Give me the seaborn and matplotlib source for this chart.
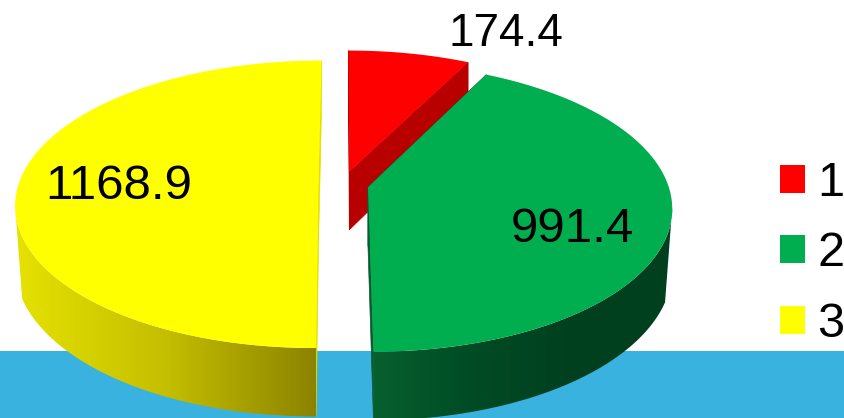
import numpy as np  # numerical work for the projection
import matplotlib
matplotlib.use('Agg')
import matplotlib.pyplot as plt
from matplotlib.patches import Patch, Polygon
import seaborn as sns

# chart data
categories = ['1', '2', '3']
values = [174.4, 991.4, 1168.9]
colors = ['#FF0000', '#00AE50', '#FFFF00']

sns.set_theme(style='white')
plt.rcParams['font.family'] = ['Liberation Sans', 'DejaVu Sans']

# camera of the fake 3D pie, in pixels
CX, CY = 342.8, 184.4
SX, SY, K = 300, 141, 0.138
DEPTH = 59
EXPLODE = [0.095, 0.086, 0.081]


def project(x, y, z=0.0):
    # x right, y away from the viewer, z down (0 top, 1 bottom)
    w = 1 + K * y
    sx = CX + SX * x / w
    sy = CY - SY * y / w + DEPTH * z / w
    return sx, sy


fig = plt.figure(figsize=(8.44, 4.18), dpi=100)
ax = fig.add_axes([0, 0, 1, 1])
ax.axis('off')

# blue band behind the pie
ax.axhspan(351, 418, color='#39B2E0', lw=0, zorder=0)

# slice angles from the values, clockwise from twelve o'clock
fractions = np.array(values) / np.sum(values)
edges = np.concatenate([[0], np.cumsum(fractions)]) * 2 * np.pi

wall_pals = [
    None,
    sns.blend_palette(['#08612F', '#004C24', '#00401F', '#00401F'], 256),
    sns.blend_palette(['#E6E200', '#C4BE00', '#8A8200'], 256),
]
wall_range = [None, (366, 674), (14, 320)]
inner_colors = ['#B80000', '#0A5A30', '#E2DE00']

# red first, then yellow, green last (green hides the red wall)
z_base = {0: 2, 2: 3, 1: 4}
for i in [0, 2, 1]:
    a0, a1 = edges[i], edges[i + 1]
    mid = (a0 + a1) / 2
    ox, oy = EXPLODE[i] * np.sin(mid), EXPLODE[i] * np.cos(mid)
    t = np.linspace(a0, a1, 400)
    xs, ys = ox + np.sin(t), oy + np.cos(t)
    zo = z_base[i]

    # cut faces of the slice
    for x_end, y_end in [(xs[0], ys[0]), (xs[-1], ys[-1])]:
        quad = [project(ox, oy, 0), project(x_end, y_end, 0),
                project(x_end, y_end, 1), project(ox, oy, 1)]
        ax.fill([p[0] for p in quad], [p[1] for p in quad],
                color=inner_colors[i], lw=0.5, zorder=zo)

    # outer wall: gradient image clipped to the part facing the viewer
    # the bottom rim stops earlier so the side edge runs straight like in the picture
    mask_top = np.cos(t) < -0.14
    mask_bot = np.cos(t) < -0.35
    if wall_pals[i] is not None and mask_top.any():
        rim_top = [project(x, y, 0) for x, y in zip(xs[mask_top], ys[mask_top])]
        rim_bot = [project(x, y, 1) for x, y in zip(xs[mask_bot], ys[mask_bot])]
        lo, hi = wall_range[i]
        grad = np.array(wall_pals[i])[np.newaxis, :, :]
        im = ax.imshow(grad, extent=(lo, hi, 418, 0), aspect='auto', zorder=zo + 0.2,
                       interpolation='bilinear')
        clip = Polygon(rim_top + rim_bot[::-1], closed=True, transform=ax.transData)
        im.set_clip_path(clip)

    # top face
    top = [project(ox, oy)] + [project(x, y) for x, y in zip(xs, ys)]
    ax.fill([p[0] for p in top], [p[1] for p in top],
            color=colors[i], lw=0, zorder=zo + 0.5)

ax.set_xlim(0, 844)
ax.set_ylim(418, 0)

# value labels
ax.text(506, 34.5, f'{values[0]}', fontsize=33, color='black', ha='center', va='center', zorder=10)
ax.text(572, 229.5, f'{values[1]}', fontsize=35.5, color='black', ha='center', va='center', zorder=10)
ax.text(119, 186.5, f'{values[2]}', fontsize=35.5, color='black', ha='center', va='center', zorder=10)

# legend on the right
handles = [Patch(facecolor=c, edgecolor='none', label=n) for c, n in zip(colors, categories)]
ax.legend(handles=handles, loc='center left', bbox_to_anchor=(780 / 844, 1 - 254 / 418),
          frameon=False, fontsize=35, borderpad=0, borderaxespad=0, labelcolor='black',
          handlelength=0.51, handleheight=0.51, handletextpad=0.26, labelspacing=0.52)

fig.savefig('out.png', dpi=100)
